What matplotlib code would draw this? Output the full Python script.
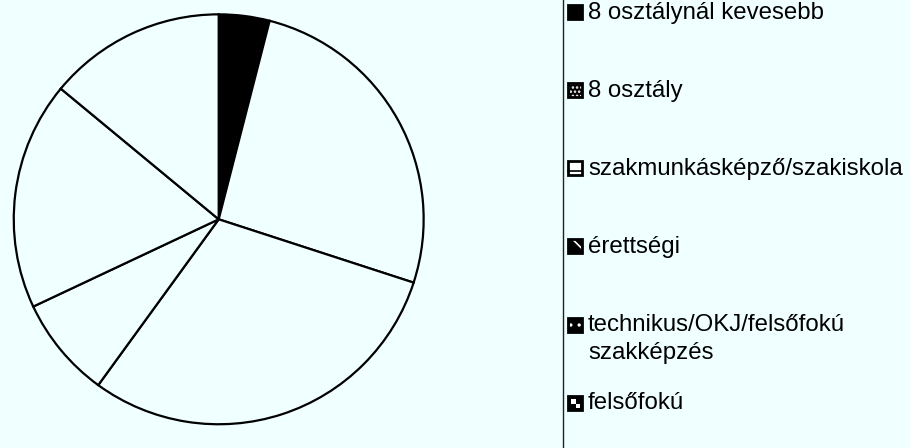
import matplotlib.pyplot as plt
from matplotlib.patches import Rectangle
from matplotlib.lines import Line2D

# data
labels = ['8 osztálynál kevesebb', '8 osztály', 'szakmunkásképző/szakiskola',
          'érettségi', 'technikus/OKJ/felsőfokú\nszakképzés', 'felsőfokú']
values = [4, 26, 30, 8, 18, 14]

bg = '#f0ffff'
W, H = 910, 448

plt.rcParams['font.family'] = ['Liberation Sans', 'DejaVu Sans']
plt.rcParams['hatch.linewidth'] = 1.2

fig = plt.figure(figsize=(W / 100, H / 100), dpi=100, facecolor=bg)

# pie: centre ~(218.7, 219.3) px, radius ~207 px
cx, cy, r = 218.7, 219.3, 207.0
ax = fig.add_axes([(cx - r) / W, (H - cy - r) / H, 2 * r / W, 2 * r / H])
ax.set_facecolor(bg)
ax.axis('off')
slice_colors = ['black'] + [bg] * (len(values) - 1)
ax.pie(values, colors=slice_colors, startangle=90, counterclock=False, radius=1,
       wedgeprops=dict(edgecolor='black', linewidth=1.6))
ax.set_xlim(-1.01, 1.01)
ax.set_ylim(-1.01, 1.01)

# legend separator
fig.add_artist(Line2D([563 / W, 563 / W], [0, 1], color='#222222', lw=1.0))

# legend markers: face colour and hatch
faces = ['black', 'black', 'white', 'black', 'black', 'black']
hatches = ['', '....', '', '\\\\', '..', '']

base0, step, line_h = 18.5, 78.0, 28.0
msz = 14
for i, (lab, fc, ht) in enumerate(zip(labels, faces, hatches)):
    base = base0 + i * step
    x0, y0 = 568 / W, (H - base - 1) / H
    w, h = msz / W, msz / H
    fig.add_artist(Rectangle((x0, y0), w, h, transform=fig.transFigure,
                             facecolor=fc, edgecolor='white', hatch=ht or None, lw=0))
    if i == 2:
        fig.add_artist(Line2D([x0, x0 + w], [y0 + 4 / H, y0 + 4 / H], color='black', lw=1.2))
    if i == 5:
        fig.add_artist(Rectangle((x0 + 3 / W, y0 + 6 / H), 5 / W, 5 / H, transform=fig.transFigure,
                                 facecolor='white', lw=0))
        fig.add_artist(Rectangle((x0 + 8 / W, y0 + 2 / H), 4 / W, 4 / H, transform=fig.transFigure,
                                 facecolor='white', lw=0))
    fig.add_artist(Rectangle((x0, y0), w, h, transform=fig.transFigure,
                             facecolor='none', edgecolor='black', lw=2.0))
    for k, line in enumerate(lab.split('\n')):
        fig.text(588 / W, (H - base - k * line_h) / H, line, fontsize=17.3,
                 va='baseline', ha='left', color='black')

fig.savefig('out.png', dpi=100, facecolor=bg)
